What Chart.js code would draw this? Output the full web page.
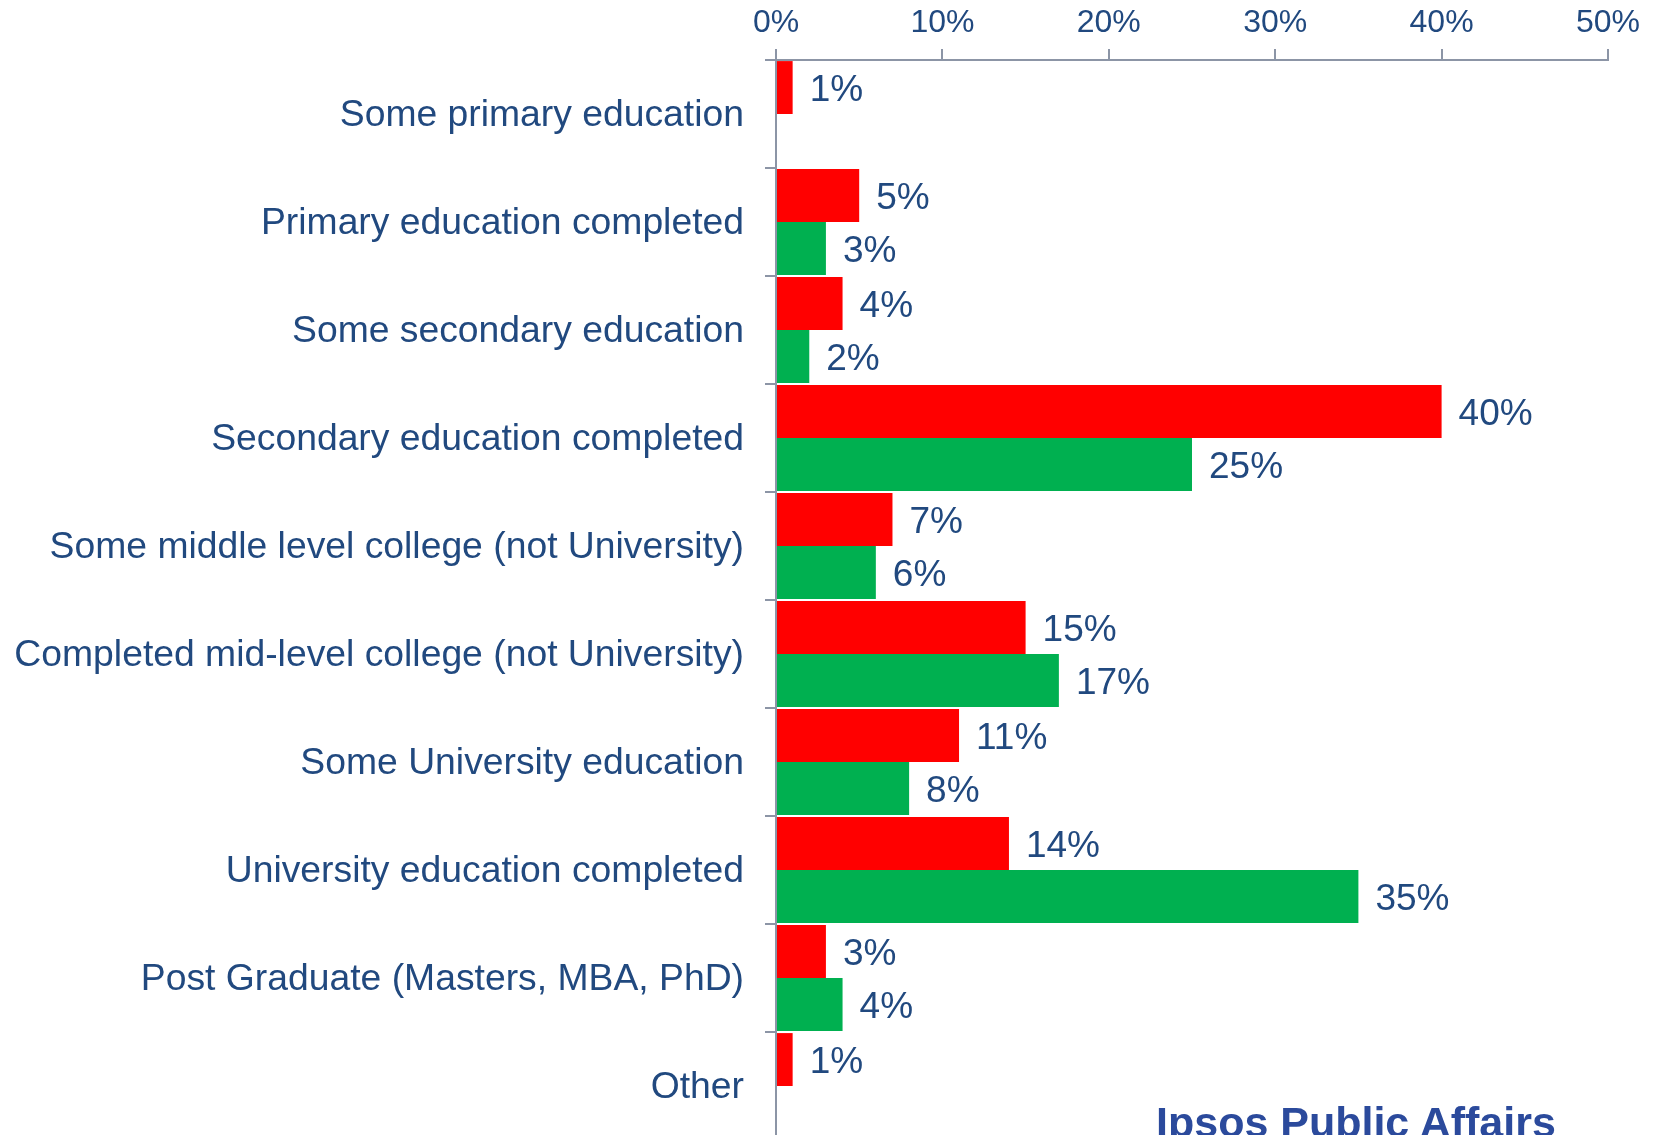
<!DOCTYPE html>
<html>
<head>
<meta charset="utf-8">
<script src="https://cdn.jsdelivr.net/npm/chart.js@4/dist/chart.umd.min.js"></script>
<style>
  html, body { margin: 0; padding: 0; background: #fff; overflow: hidden; }
  #wrap { position: relative; width: 1660px; height: 1135px; overflow: hidden; }
  #logo {
    position: absolute; left: 1156px; top: 1101px;
    font: bold 43px "Liberation Sans", Arial, sans-serif; line-height: 43px;
    color: #2B4A9C; white-space: nowrap;
  }
</style>
</head>
<body>
<div id="wrap">
  <canvas id="eduChart" width="1660" height="1140"></canvas>
  <div id="logo">Ipsos Public Affairs</div>
</div>
<script>
// categories and series (percent)
const categories = [
    'Some primary education',
    'Primary education completed',
    'Some secondary education',
    'Secondary education completed',
    'Some middle level college (not University)',
    'Completed mid-level college (not University)',
    'Some University education',
    'University education completed',
    'Post Graduate (Masters, MBA, PhD)',
    'Other'
];
const redValues = [1, 5, 4, 40, 7, 15, 11, 14, 3, 1];
const greenValues = [null, 3, 2, 25, 6, 17, 8, 35, 4, null];
const xTicks = [0, 10, 20, 30, 40, 50];

const textColor = '#21497F';
const axisColor = '#8C95A6';
const font = '"Liberation Sans", Arial, sans-serif';

// draw the % labels right of each bar
const valueLabels = {
    id: 'valueLabels',
    afterDatasetsDraw(chart) {
        const c = chart.ctx;
        c.save();
        c.font = '37px ' + font;
        c.fillStyle = textColor;
        c.textBaseline = 'middle';
        chart.data.datasets.forEach((ds, i) => {
            chart.getDatasetMeta(i).data.forEach((bar, j) => {
                const v = ds.data[j];
                if (v == null) return;
                c.fillText(v + '%', bar.x + 17, bar.y + 3);
            });
        });
        c.restore();
    }
};

const ctx = document.getElementById('eduChart').getContext('2d');
new Chart(ctx, {
    type: 'bar',
    data: {
        labels: categories,
        datasets: [
            { data: redValues, backgroundColor: '#FF0000' },
            { data: greenValues, backgroundColor: '#00B050' }
        ]
    },
    options: {
        indexAxis: 'y',
        responsive: false,
        animation: false,
        devicePixelRatio: 1,
        layout: { padding: { left: 0, right: 52, top: 0, bottom: 0 } },
        datasets: { bar: { barPercentage: 1, categoryPercentage: 0.98 } },
        plugins: { legend: { display: false }, tooltip: { enabled: false } },
        scales: {
            x: {
                position: 'top',
                min: 0,
                max: 50,
                afterBuildTicks: (s) => { s.ticks = xTicks.map(v => ({ value: v })); },
                afterFit: (s) => { s.height = 60; s.paddingLeft = 0; s.paddingRight = 0; },
                border: { display: true, color: axisColor, width: 2 },
                grid: { drawOnChartArea: false, drawTicks: true, tickLength: 11, tickColor: axisColor, lineWidth: 2 },
                ticks: {
                    padding: 7,
                    color: textColor,
                    font: { family: font, size: 32 },
                    callback: (v) => v + '%'
                }
            },
            y: {
                afterFit: (s) => { s.width = 776; s.paddingTop = 0; s.paddingBottom = 0; },
                border: { display: true, color: axisColor, width: 2 },
                grid: { drawOnChartArea: false, drawTicks: true, tickLength: 11, tickColor: axisColor, lineWidth: 2 },
                ticks: {
                    autoSkip: false,
                    padding: 21,
                    labelOffset: 2,
                    color: textColor,
                    font: { family: font, size: 37.3 }
                }
            }
        }
    },
    plugins: [valueLabels]
});
</script>
</body>
</html>
